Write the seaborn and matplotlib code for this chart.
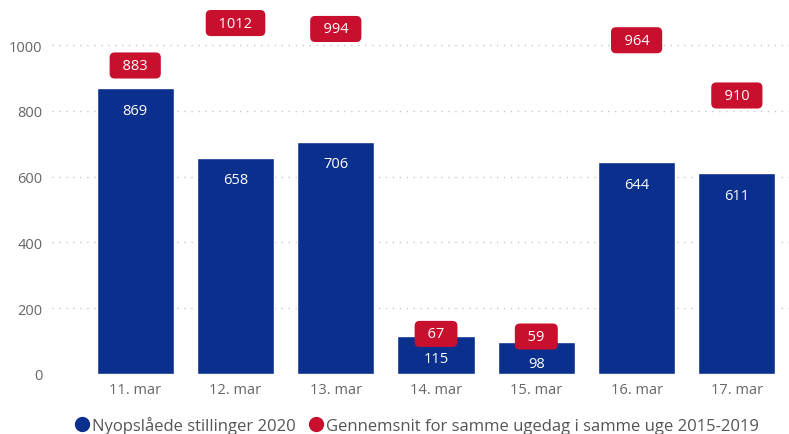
import matplotlib
matplotlib.use('Agg')
import matplotlib.pyplot as plt
import seaborn as sns
import pandas as pd
from matplotlib.lines import Line2D

# data
days = ['11. mar', '12. mar', '13. mar', '14. mar', '15. mar', '16. mar', '17. mar']
postings_2020 = [869, 658, 706, 115, 98, 644, 611]
avg_2015_2019 = [883, 1012, 994, 67, 59, 964, 910]
yticks = [0, 200, 400, 600, 800, 1000]

legend_labels = ['Nyopslåede stillinger 2020',
                 'Gennemsnit for samme ugedag i samme uge 2015-2019']

blue = '#0a2f8c'
red = '#c8102e'
grey = '#666666'

sns.set_theme(style='white')
plt.rcParams['font.family'] = ['Open Sans', 'DejaVu Sans']

df = pd.DataFrame({'day': days, 'value': postings_2020})

fig = plt.figure(figsize=(7.89, 4.35), dpi=100)
ax = fig.add_axes([52 / 789, 60 / 435, 1 - 52 / 789, 1 - 60 / 435])

sns.barplot(data=df, x='day', y='value', color=blue, saturation=1,
            width=0.77, ax=ax, zorder=3)

ax.set_xlim(-0.83, 6.52)
ax.set_ylim(0, 1140)
ax.set_yticks(yticks)
ax.set_yticklabels([str(t) for t in yticks])
for t in yticks:
    ax.axhline(t, color='#c8c8c8', linestyle=(0, (1, 4)), linewidth=1, zorder=1)

ax.set_xlabel('')
ax.set_ylabel('')
for s in ax.spines.values():
    s.set_visible(False)
ax.tick_params(axis='both', length=0, labelsize=10.5, labelcolor=grey)
ax.tick_params(axis='y', pad=7)
ax.tick_params(axis='x', pad=6)

# bar labels, inside near the top
for i, v in enumerate(postings_2020):
    ax.annotate(str(v), (i, v), xytext=(0, -16), textcoords='offset points',
                ha='center', va='center', color='white', fontsize=10.5, zorder=5)

# red labels for the average; 910 sits below its point in the original
label_offsets = [13, 13, 13, 13, 13, 12, -15]
for i, (v, off) in enumerate(zip(avg_2015_2019, label_offsets)):
    ax.annotate(f'  {v}  ', (i, v), xytext=(0, off), textcoords='offset points',
                ha='center', va='center', color='white', fontsize=10.5, zorder=6,
                bbox=dict(boxstyle='round,pad=0.38,rounding_size=0.35',
                          fc=red, ec='none'))

# legend at the bottom
handles = [Line2D([], [], marker='o', linestyle='', markersize=10,
                  markerfacecolor=c, markeredgecolor=c) for c in (blue, red)]
leg = fig.legend(handles, legend_labels, loc='lower center',
                 bbox_to_anchor=(0.527, -0.035), ncol=2, frameon=False,
                 fontsize=12, handletextpad=0.0, columnspacing=0.6,
                 handlelength=1.2)
for t in leg.get_texts():
    t.set_color('#555555')

fig.savefig('out.png', dpi=100)
